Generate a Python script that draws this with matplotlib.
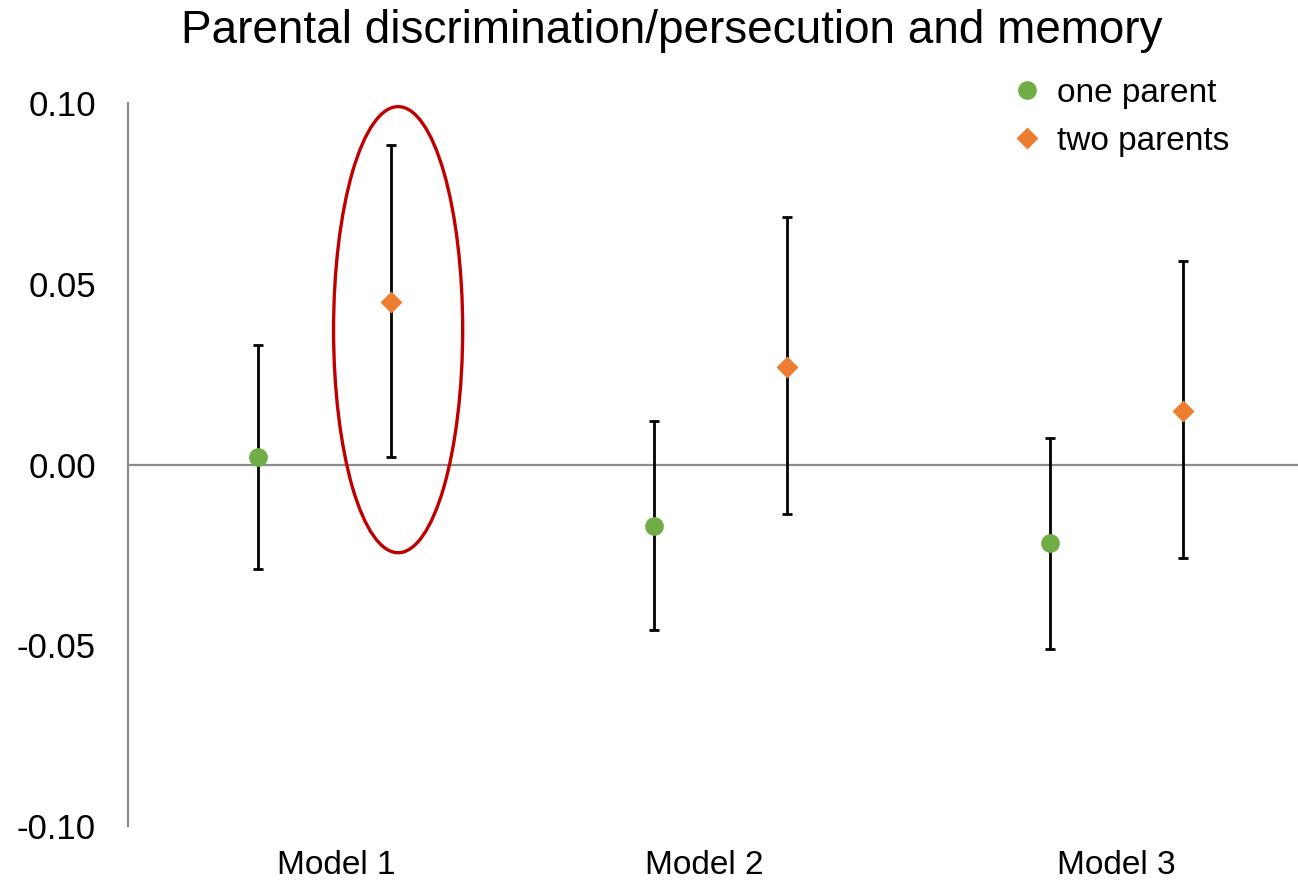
import numpy as np
import matplotlib.pyplot as plt
from matplotlib.patches import Ellipse

plt.rcParams['font.family'] = ['Liberation Sans', 'DejaVu Sans']

# Estimates with 95% interval bounds, one entry per model
models = ['Model 1', 'Model 2', 'Model 3']
one_parent = [0.0021, -0.0171, -0.0218]
one_parent_lo = [-0.0289, -0.0458, -0.0510]
one_parent_hi = [0.0331, 0.0120, 0.0072]
two_parents = [0.0450, 0.0269, 0.0149]
two_parents_lo = [0.0021, -0.0138, -0.0259]
two_parents_hi = [0.0884, 0.0684, 0.0562]

green = '#70AD47'
orange = '#ED7D31'
grey = '#8C8C8C'

group = np.arange(1, len(models) + 1)
offset = 0.167
label_x = group + np.array([0.03, -0.04, 0.0])

fig = plt.figure(figsize=(12.98, 8.82), dpi=100)
ax = fig.add_axes([128 / 1298, 1 - 826 / 882, 1 - 128 / 1298, (826 - 103) / 882])

x1 = group - offset
x2 = group + offset
y1 = np.array(one_parent)
y2 = np.array(two_parents)
err1 = [y1 - np.array(one_parent_lo), np.array(one_parent_hi) - y1]
err2 = [y2 - np.array(two_parents_lo), np.array(two_parents_hi) - y2]

ax.axhline(0, color=grey, lw=1.6, zorder=1)
ax.errorbar(x1, y1, yerr=err1, fmt='none', ecolor='black', elinewidth=2.0,
            capsize=3.3, capthick=2.0, zorder=2)
ax.errorbar(x2, y2, yerr=err2, fmt='none', ecolor='black', elinewidth=2.0,
            capsize=3.3, capthick=2.0, zorder=2)
ax.plot(x1, y1, 'o', color=green, ms=13.5, mec='none', label='one parent', zorder=3)
ax.plot(x2, y2, 'D', color=orange, ms=11, mec='none', label='two parents', zorder=3)

# highlight the significant estimate in model 1
ax.add_patch(Ellipse((1.186, 0.0373), 0.326, 0.1234, fill=False,
                     edgecolor='#C00000', lw=2.4, zorder=4))

ax.set_xlim(0.504, 3.458)
ax.set_ylim(-0.1, 0.1)
ax.set_yticks([-0.1, -0.05, 0.0, 0.05, 0.1])
ax.set_yticklabels([f'{v:.2f}' for v in [-0.1, -0.05, 0.0, 0.05, 0.1]])
ax.set_xticks(label_x)
ax.set_xticklabels(models)
ax.tick_params(axis='y', length=0, pad=23, labelsize=25)
ax.tick_params(axis='x', length=0, pad=17, labelsize=24)

for side in ['top', 'right', 'bottom']:
    ax.spines[side].set_visible(False)
ax.spines['left'].set_color(grey)
ax.spines['left'].set_linewidth(1.6)

ax.legend(loc='upper left', bbox_to_anchor=(980 / 1298, 1 - 48 / 882),
          bbox_transform=fig.transFigure, frameon=False, fontsize=24,
          handlelength=1.0, handletextpad=0.4, labelspacing=0.5)

fig.text(672 / 1298, 1 - 31 / 882, 'Parental discrimination/persecution and memory',
         ha='center', va='center', fontsize=33)

fig.savefig('out.png', dpi=100)
